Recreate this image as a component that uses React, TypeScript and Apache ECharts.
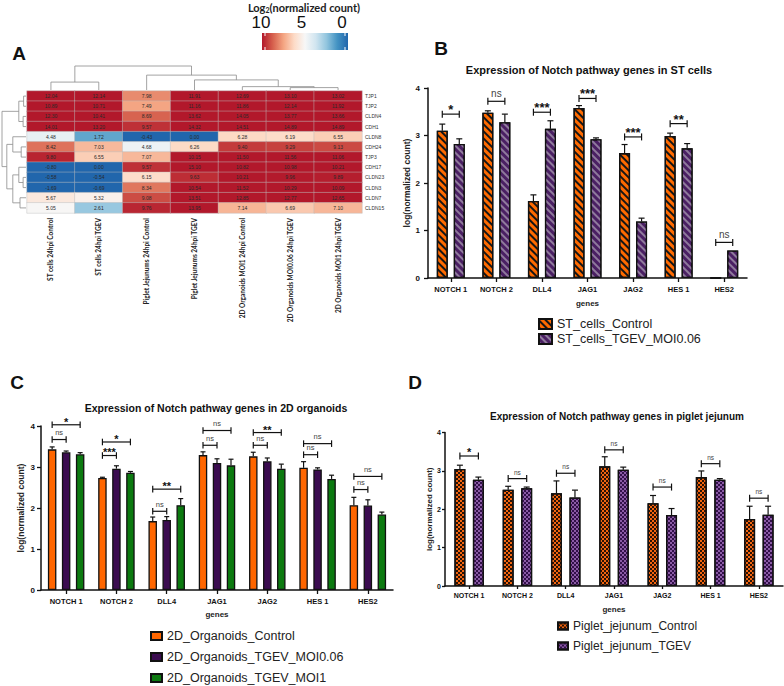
import { useEffect, useRef } from 'react';
import * as echarts from 'echarts';

// ---------------- Panel A: heatmap ----------------
const heatColumns = [
  'ST cells 24hpi Control',
  'ST cells 24hpi TGEV',
  'Piglet Jejunums 24hpi Control',
  'Piglet Jejunums 24hpi TGEV',
  '2D Organoids MOI1 24hpi Control',
  '2D Organoids MOI0.06 24hpi TGEV',
  '2D Organoids MOI1 24hpi TGEV',
];
const heatRows = ['TJP1', 'TJP2', 'CLDN4', 'CDH1', 'CLDN8', 'CDH24', 'TJP3', 'CDH17', 'CLDN23', 'CLDN3', 'CLDN7', 'CLDN15'];
const heatValues = [
  [12.04, 12.14, 7.98, 11.91, 12.69, 13.10, 13.02],
  [10.89, 10.71, 7.49, 11.16, 11.86, 12.14, 11.92],
  [12.30, 10.41, 8.69, 13.62, 14.05, 13.77, 13.66],
  [14.01, 13.20, 9.57, 14.32, 14.51, 14.89, 14.89],
  [4.48, 1.72, -0.43, 0.00, 6.28, 6.19, 6.55],
  [8.42, 7.03, 4.68, 6.26, 9.40, 9.29, 9.13],
  [9.80, 6.55, 7.07, 10.15, 11.50, 11.56, 11.06],
  [-0.80, 0.00, 9.57, 15.10, 10.82, 10.98, 10.21],
  [-0.58, -0.54, 6.15, 9.63, 10.21, 9.96, 9.89],
  [-1.69, -0.69, 8.34, 10.54, 11.52, 10.29, 10.09],
  [5.67, 5.32, 9.08, 13.51, 12.85, 12.77, 12.65],
  [5.05, 2.61, 9.76, 13.95, 7.14, 6.69, 7.10],
];
const colorScaleTicks = ['10', '5', '0'];
const heatPalette = ['#2166ac', '#4393c3', '#92c5de', '#d1e5f0', '#f7f7f7', '#fddbc7', '#f4a582', '#d6604d', '#b2182b'];

// hierarchical clustering trees (leaf = index, h = relative merge height)
type TreeNode = number | { h: number; l: TreeNode; r: TreeNode };
const columnTree: TreeNode = {
  h: 1,
  l: { h: 0.33, l: 0, r: 1 },
  r: { h: 0.62, l: 2, r: { h: 0.42, l: 3, r: { h: 0.14, l: 4, r: { h: 0.1, l: 5, r: 6 } } } },
};
const rowTree: TreeNode = {
  h: 1,
  l: { h: 0.3, l: { h: 0.1, l: 0, r: 1 }, r: { h: 0.12, l: 2, r: 3 } },
  r: {
    h: 0.8,
    l: { h: 0.55, l: 4, r: { h: 0.2, l: 5, r: 6 } },
    r: { h: 0.55, l: { h: 0.3, l: 7, r: { h: 0.12, l: 8, r: 9 } }, r: { h: 0.25, l: 10, r: 11 } },
  },
};

// ---------------- Bar panels ----------------
const genes = ['NOTCH 1', 'NOTCH 2', 'DLL4', 'JAG1', 'JAG2', 'HES 1', 'HES2'];

// B: ST cells
const stNames = ['ST_cells_Control', 'ST_cells_TGEV_MOI0.06'];
const stControl = [3.10, 3.48, 1.62, 3.58, 2.63, 2.99, 0];
const stControlErr = [0.14, 0.04, 0.13, 0.05, 0.18, 0.06, 0];
const stTgev = [2.82, 3.28, 3.14, 2.92, 1.19, 2.73, 0.58];
const stTgevErr = [0.11, 0.17, 0.17, 0.03, 0.07, 0.10, 0];
const stSig = ['*', 'ns', '***', '***', '***', '**', 'ns'];
const stSigY = [3.45, 3.72, 3.49, 3.78, 2.97, 3.25, 0.75];

// C: 2D organoids
const orgNames = ['2D_Organoids_Control', '2D_Organoids_TGEV_MOI0.06', '2D_Organoids_TGEV_MOI1'];
const orgControl = [3.43, 2.73, 1.68, 3.29, 3.26, 2.98, 2.07];
const orgControlErr = [0.06, 0.02, 0.10, 0.08, 0.10, 0.15, 0.19];
const orgMoi006 = [3.36, 2.96, 1.71, 3.10, 3.14, 2.94, 2.06];
const orgMoi006Err = [0.03, 0.07, 0.08, 0.10, 0.08, 0.04, 0.14];
const orgMoi1 = [3.31, 2.86, 2.07, 3.04, 2.96, 2.71, 1.84];
const orgMoi1Err = [0.04, 0.03, 0.16, 0.15, 0.11, 0.09, 0.06];
const orgSigLow = ['ns', '***', 'ns', 'ns', 'ns', 'ns', 'ns'];
const orgSigLowY = [3.67, 3.28, 1.92, 3.53, 3.53, 3.30, 2.45];
const orgSigHigh = ['*', '*', '**', 'ns', '**', 'ns', 'ns'];
const orgSigHighY = [4.03, 3.61, 2.46, 3.89, 3.84, 3.57, 2.77];

// D: piglet jejunum
const pigNames = ['Piglet_jejunum_Control', 'Piglet_jejunum_TGEV'];
const pigControl = [3.05, 2.51, 2.42, 3.12, 2.16, 2.84, 1.75];
const pigControlErr = [0.10, 0.09, 0.32, 0.25, 0.20, 0.16, 0.33];
const pigTgev = [2.77, 2.55, 2.31, 3.03, 1.85, 2.77, 1.86];
const pigTgevErr = [0.07, 0.03, 0.19, 0.07, 0.17, 0.03, 0.22];
const pigSig = ['*', 'ns', 'ns', 'ns', 'ns', 'ns', 'ns'];
const pigSigY = [3.39, 2.80, 2.94, 3.55, 2.58, 3.19, 2.29];

const FONT = '"Liberation Sans", Arial, sans-serif';

function barOffsets(n: number, width: number, gap: number) {
  const total = n * width + (n - 1) * gap;
  return Array.from({ length: n }, (_, i) => -total / 2 + width / 2 + i * (width + gap));
}

type Bracket = { cat: number; from: number; to: number; y: number; label: string };

function errorSeries(axis: number, values: number[][], errs: number[][], offsets: number[], cap: number) {
  const data: number[][] = [];
  values.forEach((vals, s) => vals.forEach((v, i) => data.push([i, s, v, errs[s][i]])));
  return {
    type: 'custom',
    xAxisIndex: axis,
    yAxisIndex: axis,
    z: 5,
    encode: { x: 0, y: 2 },
    data,
    renderItem: (_p: any, api: any) => {
      const i = api.value(0), s = api.value(1), v = api.value(2), e = api.value(3);
      if (!(e > 0)) return { type: 'group', children: [] };
      const base = api.coord([i, v]);
      const top = api.coord([i, v + e]);
      const x = base[0] + offsets[s];
      const st = { stroke: '#111', lineWidth: 1.2 };
      return {
        type: 'group',
        children: [
          { type: 'line', shape: { x1: x, y1: base[1], x2: x, y2: top[1] }, style: st },
          { type: 'line', shape: { x1: x - cap, y1: top[1], x2: x + cap, y2: top[1] }, style: st },
        ],
      };
    },
  };
}

function bracketSeries(
  axis: number,
  specs: Bracket[],
  offsets: number[],
  opt: { capH: number; starSize: number; nsSize: number; lift: number; nsLift: number }
) {
  return {
    type: 'custom',
    xAxisIndex: axis,
    yAxisIndex: axis,
    z: 6,
    encode: { x: 0, y: 1 },
    data: specs.map((s) => [s.cat, s.y]),
    renderItem: (params: any, api: any) => {
      const s = specs[params.dataIndex];
      const p = api.coord([s.cat, s.y]);
      const x1 = p[0] + offsets[s.from];
      const x2 = p[0] + offsets[s.to];
      const y = p[1];
      const st = { stroke: '#111', lineWidth: 1.2 };
      const star = s.label !== 'ns';
      const fs = star ? opt.starSize : opt.nsSize;
      const ty = star ? y - opt.lift + 0.27 * fs : y - opt.nsLift;
      return {
        type: 'group',
        children: [
          { type: 'line', shape: { x1, y1: y, x2, y2: y }, style: st },
          { type: 'line', shape: { x1, y1: y - opt.capH, x2: x1, y2: y + opt.capH }, style: st },
          { type: 'line', shape: { x1: x2, y1: y - opt.capH, x2, y2: y + opt.capH }, style: st },
          {
            type: 'text',
            x: (x1 + x2) / 2,
            y: ty,
            style: {
              text: s.label,
              fontSize: fs,
              fontWeight: star ? 'bold' : 'normal',
              fontFamily: FONT,
              fill: star ? '#111' : '#444',
              align: 'center',
              verticalAlign: 'middle',
              textAlign: 'center',
              textVerticalAlign: 'middle',
            },
          },
        ],
      };
    },
  };
}

function barXAxis(grid: number, labelSize: number, margin: number, nameGap: number, tickLen: number) {
  return {
    type: 'category',
    gridIndex: grid,
    data: genes,
    axisLine: { show: true, lineStyle: { color: '#111', width: 1.5 } },
    axisTick: { show: true, alignWithLabel: true, length: tickLen, lineStyle: { color: '#111', width: 1.3 } },
    axisLabel: { interval: 0, fontSize: labelSize, fontWeight: 'bold', color: '#111', fontFamily: FONT, margin },
    name: 'genes',
    nameLocation: 'middle',
    nameGap,
    nameTextStyle: { fontSize: 8, fontWeight: 'bold', color: '#222', fontFamily: FONT },
  };
}

function barYAxis(grid: number, labelSize: number, margin: number, nameGap: number, tickLen: number, nameSize: number) {
  return {
    type: 'value',
    gridIndex: grid,
    min: 0,
    max: 4,
    interval: 1,
    splitLine: { show: false },
    axisLine: { show: true, lineStyle: { color: '#111', width: 1.5 } },
    axisTick: { show: true, length: tickLen, lineStyle: { color: '#111', width: 1.3 } },
    axisLabel: { fontSize: labelSize, fontWeight: 'bold', color: '#111', fontFamily: FONT, margin },
    name: 'log(normalized count)',
    nameLocation: 'middle',
    nameGap,
    nameTextStyle: { fontSize: nameSize, fontWeight: 'bold', color: '#222', fontFamily: FONT },
  };
}

function drawTrees(params: any, api: any) {
  const cs = params.coordSys;
  const segs: number[][] = [];
  const colBase = cs.y - 1;
  const colH = 24;
  const walkCol = (n: TreeNode): { p: number; h: number } => {
    if (typeof n === 'number') return { p: api.coord([n, 0])[0], h: 0 };
    const a = walkCol(n.l);
    const b = walkCol(n.r);
    const yt = colBase - n.h * colH;
    segs.push([a.p, colBase - a.h * colH, a.p, yt]);
    segs.push([b.p, colBase - b.h * colH, b.p, yt]);
    segs.push([a.p, yt, b.p, yt]);
    return { p: (a.p + b.p) / 2, h: n.h };
  };
  const rowBase = cs.x - 1;
  const rowW = 24;
  const walkRow = (n: TreeNode): { p: number; h: number } => {
    if (typeof n === 'number') return { p: api.coord([0, n])[1], h: 0 };
    const a = walkRow(n.l);
    const b = walkRow(n.r);
    const xt = rowBase - n.h * rowW;
    segs.push([rowBase - a.h * rowW, a.p, xt, a.p]);
    segs.push([rowBase - b.h * rowW, b.p, xt, b.p]);
    segs.push([xt, a.p, xt, b.p]);
    return { p: (a.p + b.p) / 2, h: n.h };
  };
  walkCol(columnTree);
  walkRow(rowTree);
  return {
    type: 'group',
    children: segs.map((s) => ({
      type: 'line',
      shape: { x1: s[0], y1: s[1], x2: s[2], y2: s[3] },
      style: { stroke: '#8c8c8c', lineWidth: 0.8 },
    })),
  };
}

const stripe = (color: string) => ({
  symbol: 'rect',
  symbolSize: 1,
  color,
  dashArrayX: [1, 0],
  dashArrayY: [2, 2.4],
  rotation: Math.PI / 4,
});
const checker = (color: string) => ({
  symbol: 'rect',
  symbolSize: 1,
  color,
  dashArrayX: [[2, 2], [0, 2, 2, 0]],
  dashArrayY: [2, 0],
});

function buildOption() {
  const heatData: number[][] = [];
  heatValues.forEach((row, r) => row.forEach((v, c) => heatData.push([c, r, v])));

  const offB = barOffsets(2, 11, 6);
  const offC = barOffsets(3, 8.5, 5.5);
  const offD = barOffsets(2, 11, 7.5);

  const bracketsB: Bracket[] = stSig.map((label, i) => ({ cat: i, from: 0, to: 1, y: stSigY[i], label }));
  const bracketsC: Bracket[] = [];
  orgSigLow.forEach((label, i) => {
    bracketsC.push({ cat: i, from: 0, to: 1, y: orgSigLowY[i], label });
    bracketsC.push({ cat: i, from: 0, to: 2, y: orgSigHighY[i], label: orgSigHigh[i] });
  });
  const bracketsD: Bracket[] = pigSig.map((label, i) => ({ cat: i, from: 0, to: 1, y: pigSigY[i], label }));

  const border = { borderColor: '#111', borderWidth: 1.3 };

  const graphic: any[] = [
    // panel letters
    ...[['A', 19, 53], ['B', 441, 48], ['C', 17, 382], ['D', 415, 382]].map(([t, x, y]) => ({
      type: 'text',
      x,
      y,
      style: { text: t, fontSize: 19, fontWeight: 'bold', fontFamily: FONT, fill: '#111', align: 'center', verticalAlign: 'middle', textAlign: 'center', textVerticalAlign: 'middle' },
    })),
    // titles
    ...[
      ['Expression of Notch pathway genes in ST cells', 589, 70, 11],
      ['Expression of Notch pathway genes in 2D organoids', 216, 408, 10.5],
      ['Expression of Notch pathway genes in piglet jejunum', 617, 416, 10],
    ].map(([t, x, y, fs]) => ({
      type: 'text',
      x,
      y,
      style: { text: t, fontSize: fs, fontWeight: 'bold', fontFamily: FONT, fill: '#111', align: 'center', verticalAlign: 'middle', textAlign: 'center', textVerticalAlign: 'middle' },
    })),
    // colour scale
    {
      type: 'text',
      x: 304,
      y: 7,
      style: {
        text: '{b|Log}{s|2}{b|(normalized count)}',
        rich: {
          b: { fontSize: 11, fontWeight: 'bold', fontFamily: 'Lato, ' + FONT, fill: '#222' },
          s: { fontSize: 7, fontWeight: 'bold', fontFamily: 'Lato, ' + FONT, fill: '#222', padding: [6, 0, 0, 0] },
        },
        align: 'center',
        verticalAlign: 'middle',
        textAlign: 'center',
        textVerticalAlign: 'middle',
      },
    },
    ...colorScaleTicks.map((t, i) => ({
      type: 'text',
      x: 261 + i * 40.5,
      y: 22.5,
      style: { text: t, fontSize: 17, fontFamily: FONT, fill: '#111', align: 'center', verticalAlign: 'middle', textAlign: 'center', textVerticalAlign: 'middle' },
    })),
    {
      type: 'rect',
      shape: { x: 262, y: 33, width: 86, height: 17 },
      style: {
        fill: {
          type: 'linear',
          x: 0,
          y: 0,
          x2: 1,
          y2: 0,
          colorStops: heatPalette
            .slice()
            .reverse()
            .map((c, i) => ({ offset: i / (heatPalette.length - 1), color: c })),
        },
      },
    },
    ...[265, 345].flatMap((x) => [
      { type: 'line', shape: { x1: x, y1: 33, x2: x, y2: 36 }, style: { stroke: '#fff', lineWidth: 1 } },
      { type: 'line', shape: { x1: x, y1: 47, x2: x, y2: 50 }, style: { stroke: '#fff', lineWidth: 1 } },
    ]),
  ];

  const legendText = (fs: number) => ({ fontSize: fs, color: '#222', fontFamily: FONT, lineHeight: 14 });

  return {
    animation: false,
    backgroundColor: '#fff',
    textStyle: { fontFamily: FONT },
    grid: [
      { left: 27, top: 91, width: 335, height: 122 },
      { left: 428, top: 88, width: 319, height: 190 },
      { left: 41, top: 426, width: 352, height: 164 },
      { left: 445, top: 432.6, width: 338, height: 153.4 },
    ],
    xAxis: [
      {
        type: 'category',
        gridIndex: 0,
        data: heatColumns,
        axisLine: { show: false },
        axisTick: { show: false },
        axisLabel: { interval: 0, rotate: 90, fontSize: 6.5, fontWeight: 'bold', fontFamily: 'Lato, ' + FONT, color: '#222', margin: 5 },
      },
      barXAxis(1, 7.5, 7, 21, 4),
      barXAxis(2, 7.5, 7, 20, 4),
      barXAxis(3, 7, 6, 19, 3),
    ],
    yAxis: [
      {
        type: 'category',
        gridIndex: 0,
        data: heatRows,
        inverse: true,
        position: 'right',
        axisLine: { show: false },
        axisTick: { show: false },
        axisLabel: { interval: 0, fontSize: 5, color: '#333', margin: 3 },
      },
      barYAxis(1, 8, 8, 14, 4, 8.5),
      barYAxis(2, 8, 6, 16, 4, 8.5),
      barYAxis(3, 7, 4, 9, 3, 8),
    ],
    visualMap: {
      type: 'continuous',
      show: false,
      seriesIndex: 0,
      min: 0,
      max: 10,
      inRange: { color: heatPalette },
    },
    legend: [
      {
        data: stNames,
        orient: 'vertical',
        left: 538,
        top: 317,
        padding: 0,
        itemWidth: 13,
        itemHeight: 10,
        itemGap: 1,
        icon: 'rect',
        selectedMode: false,
        textStyle: legendText(12.5),
      },
      {
        data: orgNames,
        orient: 'vertical',
        left: 150,
        top: 629,
        padding: 0,
        itemWidth: 11,
        itemHeight: 8,
        itemGap: 7,
        icon: 'rect',
        selectedMode: false,
        textStyle: legendText(12.5),
      },
      {
        data: pigNames,
        orient: 'vertical',
        left: 557,
        top: 619,
        padding: 0,
        itemWidth: 10,
        itemHeight: 7,
        itemGap: 6,
        icon: 'rect',
        selectedMode: false,
        textStyle: legendText(12),
      },
    ],
    graphic,
    series: [
      {
        type: 'heatmap',
        xAxisIndex: 0,
        yAxisIndex: 0,
        data: heatData,
        itemStyle: { borderColor: 'rgba(190,190,190,0.9)', borderWidth: 0.5 },
        label: {
          show: true,
          fontSize: 5,
          color: '#2a2a2a',
          formatter: (p: any) => Number(p.value[2]).toFixed(2),
        },
      },
      {
        type: 'custom',
        xAxisIndex: 0,
        yAxisIndex: 0,
        encode: { x: 0, y: 1 },
        data: [[0, 0]],
        renderItem: drawTrees,
      },
      // B
      {
        name: stNames[0],
        type: 'bar',
        xAxisIndex: 1,
        yAxisIndex: 1,
        data: stControl,
        barWidth: 11,
        barGap: '54.5%',
        itemStyle: { color: '#ff6a00', ...border, decal: stripe('#161616') },
      },
      {
        name: stNames[1],
        type: 'bar',
        xAxisIndex: 1,
        yAxisIndex: 1,
        data: stTgev,
        barWidth: 11,
        barGap: '54.5%',
        itemStyle: { color: '#4a1f63', ...border, decal: stripe('#8f7a9c') },
      },
      errorSeries(1, [stControl, stTgev], [stControlErr, stTgevErr], offB, 3),
      bracketSeries(1, bracketsB, offB, { capH: 3.5, starSize: 13, nsSize: 10, lift: 8, nsLift: 8 }),
      // C
      {
        name: orgNames[0],
        type: 'bar',
        xAxisIndex: 2,
        yAxisIndex: 2,
        data: orgControl,
        barWidth: 8.5,
        barGap: '64.7%',
        itemStyle: { color: '#ff6600', ...border },
      },
      {
        name: orgNames[1],
        type: 'bar',
        xAxisIndex: 2,
        yAxisIndex: 2,
        data: orgMoi006,
        barWidth: 8.5,
        barGap: '64.7%',
        itemStyle: { color: '#3b0c50', ...border },
      },
      {
        name: orgNames[2],
        type: 'bar',
        xAxisIndex: 2,
        yAxisIndex: 2,
        data: orgMoi1,
        barWidth: 8.5,
        barGap: '64.7%',
        itemStyle: { color: '#0c7a10', ...border },
      },
      errorSeries(2, [orgControl, orgMoi006, orgMoi1], [orgControlErr, orgMoi006Err, orgMoi1Err], offC, 2.5),
      bracketSeries(2, bracketsC, offC, { capH: 3.3, starSize: 11, nsSize: 7.5, lift: 6, nsLift: 7 }),
      // D
      {
        name: pigNames[0],
        type: 'bar',
        xAxisIndex: 3,
        yAxisIndex: 3,
        data: pigControl,
        barWidth: 11,
        barGap: '68.2%',
        itemStyle: { color: '#f26510', ...border, decal: checker('#2a1204') },
      },
      {
        name: pigNames[1],
        type: 'bar',
        xAxisIndex: 3,
        yAxisIndex: 3,
        data: pigTgev,
        barWidth: 11,
        barGap: '68.2%',
        itemStyle: { color: '#8a5aa5', ...border, decal: checker('#32104a') },
      },
      errorSeries(3, [pigControl, pigTgev], [pigControlErr, pigTgevErr], offD, 3),
      bracketSeries(3, bracketsD, offD, { capH: 3.5, starSize: 11, nsSize: 6.5, lift: 7, nsLift: 6.5 }),
    ],
  };
}

export default function App() {
  const ref = useRef<HTMLDivElement>(null);
  useEffect(() => {
    document.body.style.margin = '0';
    if (!ref.current) return;
    const chart = echarts.init(ref.current, undefined, { renderer: 'svg' });
    chart.setOption(buildOption() as any);
    return () => chart.dispose();
  }, []);
  return <div ref={ref} style={{ width: 784, height: 686 }} />;
}
